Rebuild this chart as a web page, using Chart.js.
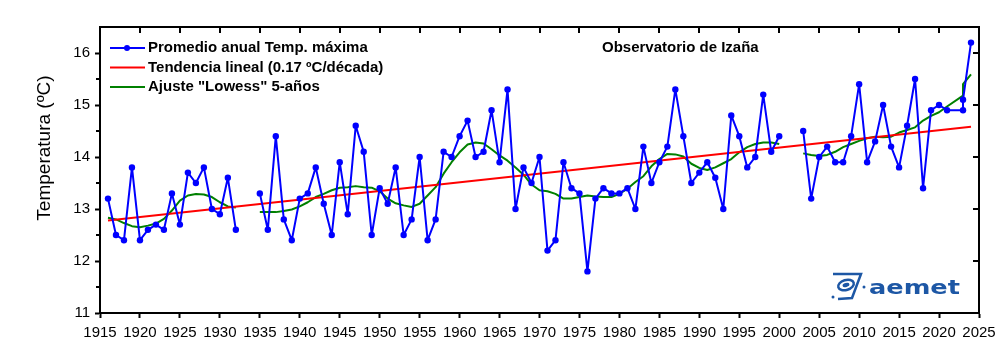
<!DOCTYPE html>
<html>
<head>
<meta charset="utf-8">
<script src="https://cdn.jsdelivr.net/npm/chart.js@4"></script>
<style>
html, body { margin: 0; padding: 0; background: #fff; }
canvas { display: block; }
</style>
</head>
<body>
<canvas id="chart" width="1000" height="361"></canvas>
<script>
// Datos (Observatorio de Izaña, promedio anual de la temperatura máxima)
const years = [
1916,1917,1918,1919,1920,1921,1922,1923,1924,1925,1926,1927,1928,1929,1930,1931,1932,1933,1934,
1935,1936,1937,1938,1939,1940,1941,1942,1943,1944,1945,1946,1947,1948,1949,1950,1951,1952,1953,1954,
1955,1956,1957,1958,1959,1960,1961,1962,1963,1964,1965,1966,1967,1968,1969,1970,1971,1972,1973,1974,
1975,1976,1977,1978,1979,1980,1981,1982,1983,1984,1985,1986,1987,1988,1989,1990,1991,1992,1993,1994,
1995,1996,1997,1998,1999,2000,2001,2002,2003,2004,2005,2006,2007,2008,2009,2010,2011,2012,2013,2014,
2015,2016,2017,2018,2019,2020,2021,2023,2023,2024
];
const tmax = [
13.2,12.5,12.4,13.8,12.4,12.6,12.7,12.6,13.3,12.7,13.7,13.5,13.8,13.0,12.9,13.6,12.6,null,null,
13.3,12.6,14.4,12.8,12.4,13.2,13.3,13.8,13.1,12.5,13.9,12.9,14.6,14.1,12.5,13.4,13.1,13.8,12.5,12.8,
14.0,12.4,12.8,14.1,14.0,14.4,14.7,14.0,14.1,14.9,13.9,15.3,13.0,13.8,13.5,14.0,12.2,12.4,13.9,13.4,
13.3,11.8,13.2,13.4,13.3,13.3,13.4,13.0,14.2,13.5,13.9,14.2,15.3,14.4,13.5,13.7,13.9,13.6,13.0,14.8,
14.4,13.8,14.0,15.2,14.1,14.4,null,null,14.5,13.2,14.0,14.2,13.9,13.9,14.4,15.4,13.9,14.3,15.0,14.2,
13.8,14.6,15.5,13.4,14.9,15.0,14.9,14.9,15.1,16.2
];
const lowess = [
12.83,12.80,12.73,12.67,12.65,12.68,12.72,12.81,12.97,13.16,13.26,13.29,13.28,13.23,13.13,13.05,13.03,null,null,
12.94,12.94,12.94,12.96,12.99,13.05,13.13,13.23,13.29,13.36,13.41,13.42,13.44,13.42,13.41,13.34,13.20,13.11,13.07,13.04,
13.10,13.26,13.42,13.68,13.90,14.09,14.24,14.28,14.26,14.15,14.03,13.93,13.80,13.66,13.47,13.36,13.34,13.29,13.20,13.20,
13.23,13.26,13.24,13.23,13.23,13.29,13.39,13.52,13.63,13.82,13.96,14.06,14.05,14.01,13.87,13.79,13.75,13.80,13.88,13.96,
14.09,14.19,14.25,14.28,14.28,14.25,null,null,14.07,14.04,14.02,14.04,14.10,14.19,14.25,14.31,14.36,14.39,14.38,14.39,
14.47,14.52,14.57,14.70,14.79,14.86,14.97,15.18,15.40,15.59
];
// Tendencia lineal 0.17 ºC/década
const trendYears = [1916, 2024];
const trendVals = [12.78, 14.58];

const xTicks = [1915,1920,1925,1930,1935,1940,1945,1950,1955,1960,1965,1970,1975,1980,1985,1990,1995,2000,2005,2010,2015,2020,2025];
const yTicks = [11, 12, 13, 14, 15, 16];

const legendItems = [
  { text: 'Promedio anual Temp. máxima', color: '#0000ff', marker: true },
  { text: 'Tendencia lineal (0.17 ºC/década)', color: '#ff0000' },
  { text: 'Ajuste "Lowess" 5-años', color: '#008000' }
];

const FONT = '"Liberation Sans", Arial, sans-serif';

// decoraciones: marco, ticks espejo, título del eje, leyenda, logo
const extras = {
  id: 'extras',
  afterDraw(chart) {
    const { ctx, chartArea: a, scales: { x, y } } = chart;
    ctx.save();
    ctx.strokeStyle = '#000';
    ctx.lineWidth = 2;
    ctx.strokeRect(a.left, a.top, a.right - a.left, a.bottom - a.top);

    ctx.beginPath();
    xTicks.forEach(v => {
      const px = Math.round(x.getPixelForValue(v));
      ctx.moveTo(px, a.top); ctx.lineTo(px, a.top + 6);
    });
    yTicks.forEach(v => {
      const py = Math.round(y.getPixelForValue(v));
      ctx.moveTo(a.right, py); ctx.lineTo(a.right - 6, py);
    });
    [11.5, 12.5, 13.5, 14.5, 15.5].forEach(v => {
      const py = Math.round(y.getPixelForValue(v));
      ctx.moveTo(a.left, py); ctx.lineTo(a.left - 4, py);
    });
    ctx.stroke();

    // titulo eje y
    ctx.save();
    ctx.translate(45, 148);
    ctx.rotate(-Math.PI / 2);
    ctx.fillStyle = '#000';
    ctx.font = '19px ' + FONT;
    ctx.textAlign = 'center';
    ctx.textBaseline = 'middle';
    ctx.fillText('Temperatura (ºC)', 0, 0);
    ctx.restore();

    // leyenda
    ctx.font = 'bold 15px ' + FONT;
    ctx.textBaseline = 'middle';
    ctx.textAlign = 'left';
    legendItems.forEach((it, i) => {
      const ly = 48 + i * 19.5;
      ctx.strokeStyle = it.color;
      ctx.lineWidth = 2;
      ctx.beginPath(); ctx.moveTo(110, ly); ctx.lineTo(145, ly); ctx.stroke();
      if (it.marker) {
        ctx.fillStyle = it.color;
        ctx.beginPath(); ctx.arc(127, ly, 3, 0, Math.PI * 2); ctx.fill();
      }
      ctx.fillStyle = '#000';
      ctx.fillText(it.text, 148, ly);
    });
    ctx.fillText('Observatorio de Izaña', 602, 48);

    // logo aemet
    const blue = '#1d57a5';
    ctx.strokeStyle = blue;
    ctx.fillStyle = blue;
    ctx.lineWidth = 2.5;
    ctx.beginPath(); ctx.moveTo(833, 274); ctx.lineTo(861, 274); ctx.lineTo(852, 298); ctx.lineTo(838, 299); ctx.stroke();
    ctx.beginPath(); ctx.ellipse(846, 285, 8, 5, -0.3, 0, Math.PI * 2); ctx.stroke();
    ctx.beginPath(); ctx.ellipse(846, 285, 3.5, 2, -0.3, 0, Math.PI * 2); ctx.fill();
    ctx.beginPath(); ctx.arc(864, 287, 1.5, 0, Math.PI * 2); ctx.fill();
    ctx.beginPath(); ctx.arc(833, 297, 1.5, 0, Math.PI * 2); ctx.fill();
    ctx.save();
    ctx.translate(869, 294);
    ctx.scale(1.28, 1);
    ctx.font = 'bold 20px "DejaVu Sans", sans-serif';
    ctx.textBaseline = 'alphabetic';
    ctx.fillText('aemet', 0, 0);
    ctx.restore();

    ctx.restore();
  }
};

const pts = (xs, ys) => xs.map((v, i) => ({ x: v, y: ys[i] }));

new Chart(document.getElementById('chart'), {
  type: 'line',
  data: {
    datasets: [
      {
        label: 'Promedio anual Temp. máxima',
        data: pts(years, tmax),
        borderColor: '#0000ff', backgroundColor: '#0000ff',
        borderWidth: 2, pointRadius: 3.2, pointBorderWidth: 0,
        borderJoinStyle: 'round', tension: 0, spanGaps: false
      },
      {
        label: 'Tendencia lineal (0.17 ºC/década)',
        data: pts(trendYears, trendVals),
        borderColor: '#ff0000', borderWidth: 2, pointRadius: 0
      },
      {
        label: 'Ajuste "Lowess" 5-años',
        data: pts(years, lowess),
        borderColor: '#008000', borderWidth: 2, pointRadius: 0,
        borderJoinStyle: 'round', tension: 0, spanGaps: false
      }
    ]
  },
  options: {
    responsive: false,
    animation: false,
    layout: { padding: { top: 27, right: 21, left: 0, bottom: 0 } },
    plugins: { legend: { display: false }, tooltip: { enabled: false } },
    scales: {
      x: {
        type: 'linear', min: 1915, max: 2025,
        afterBuildTicks: s => { s.ticks = xTicks.map(v => ({ value: v })); },
        afterFit: s => { s.height = 48; s.paddingLeft = 0; s.paddingRight = 0; },
        ticks: { color: '#000', font: { family: FONT, size: 15 }, padding: 6, maxRotation: 0, autoSkip: false, callback: v => String(v) },
        grid: { drawOnChartArea: false, tickLength: 5, tickWidth: 2, tickColor: '#000' },
        border: { color: '#000', width: 2 }
      },
      y: {
        min: 11, max: 16.5,
        afterBuildTicks: s => { s.ticks = yTicks.map(v => ({ value: v })); },
        afterFit: s => { s.width = 100; s.paddingTop = 0; s.paddingBottom = 0; },
        ticks: { color: '#000', font: { family: FONT, size: 15 }, padding: 5 },
        grid: { drawOnChartArea: false, tickLength: 5, tickWidth: 2, tickColor: '#000' },
        border: { color: '#000', width: 2 }
      }
    }
  },
  plugins: [extras]
});
</script>
</body>
</html>
